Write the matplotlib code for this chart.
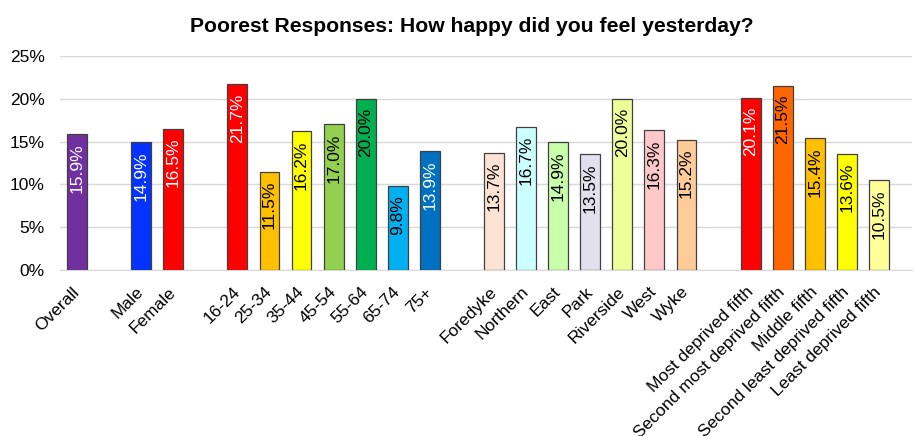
import matplotlib
matplotlib.use("Agg")
from matplotlib import pyplot as plt

plt.rcParams["font.family"] = ["Liberation Sans", "DejaVu Sans"]

# categories with empty slots between groups (None = gap)
categories = [
    "Overall", None,
    "Male", "Female", None,
    "16-24", "25-34", "35-44", "45-54", "55-64", "65-74", "75+", None,
    "Foredyke", "Northern", "East", "Park", "Riverside", "West", "Wyke", None,
    "Most deprived fifth", "Second most deprived fifth", "Middle fifth",
    "Second least deprived fifth", "Least deprived fifth",
]
values = [
    15.9, None,
    14.9, 16.5, None,
    21.7, 11.5, 16.2, 17.0, 20.0, 9.8, 13.9, None,
    13.7, 16.7, 14.9, 13.5, 20.0, 16.3, 15.2, None,
    20.1, 21.5, 15.4, 13.6, 10.5,
]
bar_colors = [
    "#7030A0", None,
    "#0433FF", "#FF0000", None,
    "#FF0000", "#FFC000", "#FFFF00", "#92D050", "#00B050", "#00B0F0", "#0070C0", None,
    "#FDE3D3", "#CCFFFF", "#C8FFAA", "#E4DFEC", "#EEFF99", "#FFC8C8", "#FFCC99", None,
    "#FF0000", "#FF6600", "#FFC000", "#FFFF00", "#FFFF99",
]
label_colors = [
    "white", None,
    "white", "white", None,
    "white", "black", "black", "black", "black", "black", "white", None,
    "black", "black", "black", "black", "black", "black", "black", None,
    "white", "black", "black", "black", "black",
]

fig = plt.figure(figsize=(9.15, 4.36), dpi=100)
ax = fig.add_axes([60 / 915, 1 - 270 / 436, 852 / 915, 214 / 436])

xs = [i for i, v in enumerate(values) if v is not None]
hs = [v for v in values if v is not None]
cs = [c for c in bar_colors if c is not None]
ax.bar(xs, hs, width=0.62, color=cs, edgecolor="#404040", linewidth=0.9, zorder=3)

for x, v, tc in zip(xs, hs, [c for c in label_colors if c is not None]):
    ax.annotate(
        "{:.1f}%".format(v), xy=(x, v), xytext=(0, -6.5), textcoords="offset points",
        rotation=90, ha="center", va="top", color=tc, fontsize=12.5, zorder=4,
    )

ax.set_xlim(-0.53, 26.03)
ax.set_ylim(0, 25)
ax.set_yticks([0, 5, 10, 15, 20, 25])
ax.set_yticklabels(["{}%".format(t) for t in [0, 5, 10, 15, 20, 25]], fontsize=12.5)
ax.yaxis.grid(True, color="#D9D9D9", linewidth=1, zorder=0)
ax.tick_params(axis="y", length=0, pad=11)

ax.set_xticks(xs)
ax.set_xticklabels([c for c in categories if c is not None], fontsize=12.5,
                   rotation=45, ha="right", va="center", rotation_mode="anchor")
ax.tick_params(axis="x", length=0, pad=14)

for s in ["top", "right", "left"]:
    ax.spines[s].set_visible(False)
ax.spines["bottom"].set_color("#D9D9D9")

fig.text(472 / 915, 1 - 26 / 436, "Poorest Responses: How happy did you feel yesterday?",
         ha="center", va="center", fontsize=15.2, fontweight="bold")

fig.savefig("out.png", dpi=100)
